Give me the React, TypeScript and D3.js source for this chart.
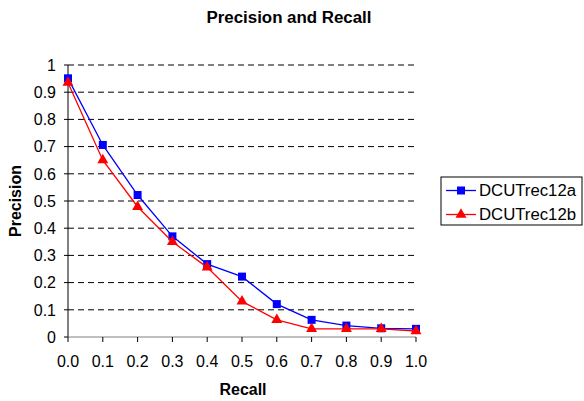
import React from "react";
import * as d3 from "d3";

const recall = ["0.0", "0.1", "0.2", "0.3", "0.4", "0.5", "0.6", "0.7", "0.8", "0.9", "1.0"];
const seriesA = [0.951, 0.706, 0.522, 0.37, 0.268, 0.222, 0.121, 0.063, 0.042, 0.032, 0.03];
const seriesB = [0.935, 0.65, 0.479, 0.35, 0.256, 0.131, 0.063, 0.03, 0.03, 0.03, 0.022];
const yTicks = [0, 0.1, 0.2, 0.3, 0.4, 0.5, 0.6, 0.7, 0.8, 0.9, 1];
const seriesNames = ["DCUTrec12a", "DCUTrec12b"];
const colors = ["#0000FF", "#FF0000"];

const W = 584, H = 401;
const left = 68, right = 416, top = 65, bottom = 337;
const font = "Liberation Sans, Arial, sans-serif";

export default function App() {
  const x = d3.scalePoint<string>().domain(recall).range([left, right]);
  const y = d3.scaleLinear().domain([0, 1]).range([bottom, top]);
  const line = d3.line<number>().x((_, i) => x(recall[i])!).y((d) => y(d));
  const tri = d3.symbol().type(d3.symbolTriangle).size(52)()!;
  const sq = (cx: number, cy: number, k: string) => (
    <rect key={k} x={cx - 4} y={cy - 4} width={8} height={8} fill={colors[0]} />
  );
  return (
    <svg width={W} height={H} style={{ position: "absolute", left: 0, top: 0 }} fontFamily={font}>
      <rect width={W} height={H} fill="#fff" />
      <text x={289} y={23} textAnchor="middle" fontSize={16} fontWeight="bold" textLength={165} lengthAdjust="spacingAndGlyphs">Precision and Recall</text>
      {yTicks.map((t) => (
        <g key={t}>
          {t > 0 && (
            <line x1={left} x2={right} y1={y(t)} y2={y(t)} stroke="#000" strokeDasharray="6,4" strokeWidth={1} />
          )}
          <line x1={left - 4} x2={left} y1={y(t)} y2={y(t)} stroke="#000" />
          <text x={56} y={y(t)} dy="0.36em" textAnchor="end" fontSize={16}>{String(t)}</text>
        </g>
      ))}
      <line x1={left} x2={left} y1={top} y2={bottom} stroke="#000" />
      <line x1={left} x2={right} y1={bottom} y2={bottom} stroke="#808080" />
      {recall.map((r) => (
        <g key={r}>
          <line x1={x(r)} x2={x(r)} y1={bottom} y2={bottom + 5} stroke="#000" />
          <text x={x(r)} y={366.5} textAnchor="middle" fontSize={16}>{r}</text>
        </g>
      ))}
      <text x={243} y={395} textAnchor="middle" fontSize={16} fontWeight="bold">Recall</text>
      <text transform={`translate(21,${(top + bottom) / 2}) rotate(-90)`} textAnchor="middle" fontSize={16} fontWeight="bold">Precision</text>
      <path d={line(seriesA)!} fill="none" stroke={colors[0]} strokeWidth={1.3} />
      {seriesA.map((v, i) => sq(x(recall[i])!, y(v), "a" + i))}
      <path d={line(seriesB)!} fill="none" stroke={colors[1]} strokeWidth={1.3} />
      {seriesB.map((v, i) => (
        <path key={"b" + i} d={tri} transform={`translate(${x(recall[i])},${y(v)})`} fill={colors[1]} />
      ))}
      <rect x={441} y={177} width={141} height={48} fill="#fff" stroke="#000" />
      {seriesNames.map((n, i) => {
        const cy = 190.5 + i * 24;
        return (
          <g key={n}>
            <line x1={446} x2={476} y1={cy} y2={cy} stroke={colors[i]} strokeWidth={1.3} />
            {i === 0 ? sq(461, cy, "l0") : <path d={tri} transform={`translate(461,${cy})`} fill={colors[1]} />}
            <text x={479} y={cy + 5.8} fontSize={16} textLength={97} lengthAdjust="spacingAndGlyphs">{n}</text>
          </g>
        );
      })}
    </svg>
  );
}
